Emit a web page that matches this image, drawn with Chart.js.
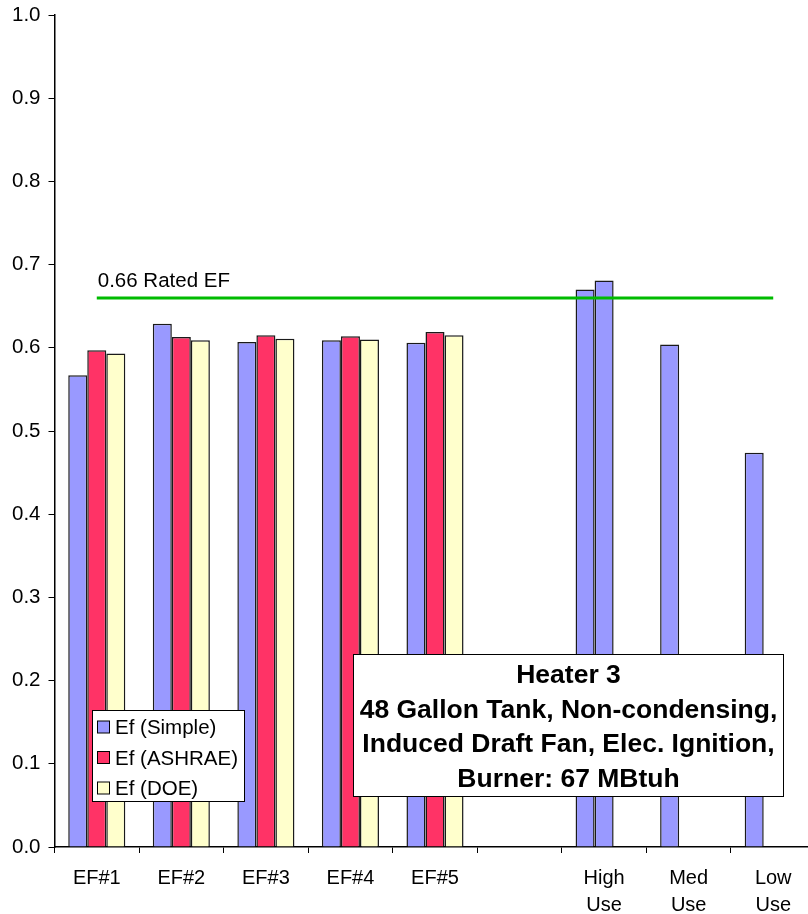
<!DOCTYPE html>
<html><head><meta charset="utf-8">
<script src="https://cdn.jsdelivr.net/npm/chart.js@4"></script>
<style>html,body{margin:0;padding:0;overflow:hidden;background:#fff;width:808px;height:914px}
canvas{display:block}</style></head>
<body><canvas id="c" width="820" height="914"></canvas>
<script>
const categories = [['EF#1'],['EF#2'],['EF#3'],['EF#4'],['EF#5'],[''],['High','Use'],['Med','Use'],['Low','Use']];
const seriesNames = ['Ef (Simple)','Ef (ASHRAE)','Ef (DOE)'];
const efSimple = [0.567,0.629,0.607,0.609,0.606,null,0.670,0.604,0.474];
const efAshrae = [0.597,0.613,0.615,0.614,0.619,null,0.681,null,null];
const efDoe    = [0.593,0.609,0.611,0.610,0.615,null,null,null,null];
const ratedEF = [0.66,0.66,0.66,0.66,0.66,0.66,0.66,0.66,0.66];
const ratedLabel = '0.66 Rated EF';
const titleLines = ['Heater 3','48 Gallon Tank, Non-condensing,','Induced Draft Fan, Elec. Ignition,','Burner: 67 MBtuh'];

const FONT = "'Liberation Sans', Arial, sans-serif";
const BLUE = '#9999FF', RED = '#FF3366', YEL = '#FFFFCC', GREEN = '#00BB00';

const overlay = {
  id: 'overlay',
  afterDatasetsDraw(chart) {
    const ctx = chart.ctx;
    const meta = chart.getDatasetMeta(3);
    const p = meta.data[0];
    ctx.save();
    ctx.font = '20.5px ' + FONT;
    ctx.fillStyle = '#000';
    ctx.textAlign = 'left';
    ctx.textBaseline = 'alphabetic';
    ctx.fillText(ratedLabel, p.x + 1, p.y - 11);
    ctx.restore();
  },
  afterDraw(chart) {
    const ctx = chart.ctx;
    ctx.save();
    // legend box
    ctx.fillStyle = '#fff';
    ctx.fillRect(92, 710, 153, 92);
    ctx.strokeStyle = '#000';
    ctx.lineWidth = 1;
    ctx.strokeRect(92.5, 710.5, 152, 91);
    const cols = [BLUE, RED, YEL];
    ctx.font = '20.5px ' + FONT;
    ctx.textAlign = 'left';
    ctx.textBaseline = 'alphabetic';
    for (let i = 0; i < seriesNames.length; i++) {
      const cy = 727 + i * 30.5;
      ctx.fillStyle = cols[i];
      ctx.fillRect(97.5, cy - 6, 12, 12);
      ctx.strokeStyle = '#000';
      ctx.strokeRect(97.5, cy - 6, 12, 12);
      ctx.fillStyle = '#000';
      ctx.fillText(seriesNames[i], 115, cy + 7);
    }
    // title box
    ctx.fillStyle = '#fff';
    ctx.fillRect(353, 654, 430, 143);
    ctx.strokeStyle = '#000';
    ctx.strokeRect(353.5, 654.5, 430, 142);
    ctx.fillStyle = '#000';
    ctx.font = 'bold 26.5px ' + FONT;
    ctx.textAlign = 'center';
    for (let i = 0; i < titleLines.length; i++) {
      ctx.fillText(titleLines[i], 568.5, 683 + i * 34.7);
    }
    ctx.restore();
  }
};

new Chart(document.getElementById('c'), {
  type: 'bar',
  data: {
    labels: categories,
    datasets: [
      { label: seriesNames[0], data: efSimple, backgroundColor: BLUE, borderColor: '#1a1a1a', borderWidth: 1.5, order: 1 },
      { label: seriesNames[1], data: efAshrae, backgroundColor: c => c.dataIndex === 6 ? BLUE : RED, borderColor: '#1a1a1a', borderWidth: 1.5, order: 1 },
      { label: seriesNames[2], data: efDoe, backgroundColor: YEL, borderColor: '#1a1a1a', borderWidth: 1.5, order: 1 },
      { type: 'line', label: ratedLabel, data: ratedEF, borderColor: GREEN, borderWidth: 3, pointRadius: 0, fill: false, order: 0 }
    ]
  },
  options: {
    responsive: false,
    devicePixelRatio: 1,
    animation: false,
    categoryPercentage: 0.675,
    barPercentage: 1.0,
    layout: { padding: { top: 15, right: 4.5, left: 0, bottom: 0 } },
    plugins: { legend: { display: false }, tooltip: { enabled: false } },
    scales: {
      x: {
        afterFit(s) { s.height = 67; s.paddingLeft = 0; s.paddingRight = 0; },
        grid: { display: true, offset: true, drawOnChartArea: false, tickLength: 6, color: '#000', lineWidth: 1 },
        border: { display: true, color: '#000', width: 1.5 },
        ticks: { color: '#000', font: { family: FONT, size: 20, lineHeight: 1.35 }, padding: 12, maxRotation: 0, autoSkip: false }
      },
      y: {
        min: 0, max: 1,
        afterFit(s) { s.width = 54.5; s.paddingTop = 0; s.paddingBottom = 0; },
        grid: { display: true, drawOnChartArea: false, tickLength: 6, color: '#000', lineWidth: 1 },
        border: { display: true, color: '#000', width: 1.5 },
        ticks: { stepSize: 0.1, color: '#000', font: { family: FONT, size: 20.5 }, padding: 8, callback: v => v.toFixed(1) }
      }
    }
  },
  plugins: [overlay]
});
</script>
</body></html>
